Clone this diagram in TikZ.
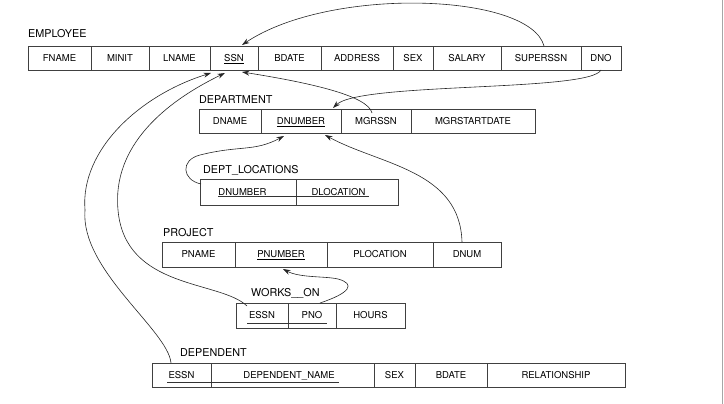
\documentclass[tikz,border=0pt]{standalone}
\usepackage{fontspec}
\usepackage{tikz}
\usetikzlibrary{arrows.meta, positioning, calc}
\newfontfamily\heros{TeX Gyre Heros}
\newcommand{\attrfont}{\heros\fontsize{9.5}{11}\selectfont}
\newcommand{\relfont}{\heros\fontsize{10.8}{12}\selectfont}
\tikzset{%
	attr/.style={draw=black!75, line width=0.8pt, rectangle, inner sep=0pt, outer sep=0pt,%
		minimum height=24pt, text height=6.9pt, text depth=0pt, font=\attrfont},
	rel/.style={inner sep=0pt, text depth=0pt, font=\relfont},
	keyline/.style={draw=black!80, line width=0.6pt},
	fkey/.style={-{Stealth[length=7.5pt,width=5pt]}, draw=black!85, line width=0.6pt},
	edge/.style={draw=black!35, line width=1pt}
}
\begin{document}
\begin{tikzpicture}[x=1pt, y=-1pt]
	\useasboundingbox (0,0) rectangle (724,404);

	\node[attr, minimum width=63pt, anchor=north west] (fname) at (28,46) {FNAME};
	\node[attr, minimum width=58pt, right=0pt of fname] (minit) {MINIT};
	\node[attr, minimum width=61pt, right=0pt of minit] (lname) {LNAME};
	\node[attr, minimum width=48pt, right=0pt of lname] (ssn) {\underline{SSN}};
	\node[attr, minimum width=63pt, right=0pt of ssn] (bdate) {BDATE};
	\node[attr, minimum width=72pt, right=0pt of bdate] (address) {ADDRESS};
	\node[attr, minimum width=40pt, right=0pt of address] (sex) {SEX};
	\node[attr, minimum width=68pt, right=0pt of sex] (salary) {SALARY};
	\node[attr, minimum width=80pt, right=0pt of salary] (superssn) {SUPERSSN};
	\node[attr, minimum width=40pt, right=0pt of superssn] (dno) {DNO};
	\node[rel, above right=8pt and 0pt of fname.north west] (employee) {EMPLOYEE};

	\node[attr, minimum width=62pt, anchor=north west] (dname) at (199,109) {DNAME};
	\node[attr, minimum width=80pt, right=0pt of dname] (dnumber) {\underline{DNUMBER}};
	\node[attr, minimum width=70pt, right=0pt of dnumber] (mgrssn) {MGRSSN};
	\node[attr, minimum width=124pt, right=0pt of mgrssn] (mgrstart) {MGRSTARTDATE};
	\node[rel, above right=5pt and 0pt of dname.north west] (department) {DEPARTMENT};

	\node[attr, minimum width=96pt, minimum height=26pt, anchor=north west] (ldnumber) at (200,179) {DNUMBER\hspace*{11pt}};
	\node[attr, minimum width=102pt, minimum height=26pt, right=0pt of ldnumber] (dlocation) {DLOCATION\hspace*{17pt}};
	\node[rel, above right=5pt and 3pt of ldnumber.north west] (deptloc) {DEPT\_LOCATIONS};

	\node[attr, minimum width=73pt, minimum height=25pt, anchor=north west] (pname) at (162,242) {PNAME};
	\node[attr, minimum width=92pt, minimum height=25pt, right=0pt of pname] (pnumber) {\underline{PNUMBER}};
	\node[attr, minimum width=106pt, minimum height=25pt, right=0pt of pnumber] (plocation) {PLOCATION};
	\node[attr, minimum width=68pt, minimum height=25pt, right=0pt of plocation] (pdnum) {DNUM};
	\node[rel, above right=5pt and 1pt of pname.north west] (project) {PROJECT};

	\node[attr, minimum width=52pt, minimum height=25pt, anchor=north west] (wessn) at (236,303) {ESSN};
	\node[attr, minimum width=48pt, minimum height=25pt, right=0pt of wessn] (wpno) {PNO};
	\node[attr, minimum width=69pt, minimum height=25pt, right=0pt of wpno] (hours) {HOURS};
	\node[rel, above right=6pt and 15pt of wessn.north west] (workson) {WORKS\_\_ON};

	\node[attr, minimum width=59pt, anchor=north west] (dessn) at (152,363) {ESSN};
	\node[attr, minimum width=163pt, right=0pt of dessn] (depname) {DEPENDENT\_NAME\hspace*{7pt}};
	\node[attr, minimum width=41pt, right=0pt of depname] (dsex) {SEX};
	\node[attr, minimum width=72pt, right=0pt of dsex] (dbdate) {BDATE};
	\node[attr, minimum width=138pt, right=0pt of dbdate] (relation) {RELATIONSHIP};
	\node[rel, above right=6pt and 28pt of dessn.north west] (dependent) {DEPENDENT};

	\draw[keyline] ($(ldnumber.center)+(-30,4)$) -- ($(dlocation.center)+(22,4)$);
	\draw[keyline] ($(wessn.center)+(-15,7.5)$) -- ($(wpno.center)+(15,7.5)$);
	\draw[keyline] ($(dessn.center)+(-14.5,7.5)$) -- ($(depname.center)+(46.5,7.5)$);

	\draw[fkey] ($(superssn.north)+(3,0)$) .. controls +(-14,-53) and +(88,-59) .. ($(ssn.north)+(8,-1)$);
	\draw[fkey] (dno.south) .. controls +(-11,22) and +(27,-26) .. ($(dnumber.north)+(32,-1)$);
	\draw[fkey] ($(mgrssn.north)+(-4,4)$) .. controls +(-4,-18) and +(63,10) .. ($(ssn.south)+(8,2)$);
	\draw[fkey] ($(ldnumber.north west)+(1,5)$) .. controls +(-19,-4) and +(-20,5) .. (200,155)
		.. controls +(40,-10) and +(-30,16) .. ($(dnumber.south)+(-17,3)$);
	\draw[fkey] ($(pdnum.north)+(-5,0)$) .. controls +(-2,-72) and +(55,30) .. ($(dnumber.south)+(24,2)$);
	\draw[fkey] ($(wpno.north)+(8,0)$) .. controls +(30,-10) and +(18,5) .. (338,279)
		.. controls +(-13,-3) and +(17,9) .. ($(pnumber.south)+(2,2)$);
	\draw[fkey] ($(wessn.north west)+(11,3)$) .. controls +(-27,-26) and +(7,80) .. (118,210)
		.. controls +(-6,-64) and +(-60,29) .. ($(ssn.south west)+(15,3)$);
	\draw[fkey] ($(dessn.north)+(-10.5,0)$) .. controls +(-3,-33) and +(-5,60) .. (85,210)
		.. controls +(-5,-60) and +(-71,22) .. ($(ssn.south west)+(1,3)$);

	\draw[edge] (722.5,0) -- (722.5,404);
\end{tikzpicture}
\end{document}
